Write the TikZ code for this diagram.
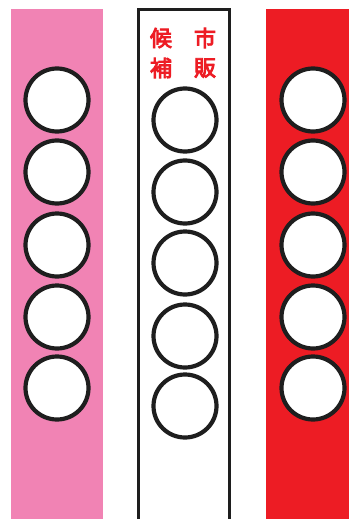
\documentclass[tikz,border=0pt]{standalone}
\usepackage{fontspec}
\newfontfamily\cjk[FakeBold=4]{Noto Sans CJK JP}
\definecolor{pinkcol}{RGB}{241,131,180}
\definecolor{redcol}{RGB}{237,28,36}
\definecolor{ringcol}{RGB}{30,30,30}
\begin{document}
\begin{tikzpicture}[x=1pt,y=-1pt,
  ring/.style={circle,draw=ringcol,fill=white,line width=4.2pt,minimum size=63pt,inner sep=0pt},
  redtxt/.style={text=redcol,font=\cjk\fontsize{22}{22}\selectfont,inner sep=0pt}]
\useasboundingbox (0,0) rectangle (349,519);
\fill[white] (0,0) rectangle (349,519);
\fill[pinkcol] (11,9) rectangle (103,519);
\fill[redcol] (266,9) rectangle (349,519);
\draw[line width=3pt,draw=ringcol] (138.5,530) -- (138.5,9.5) -- (229.5,9.5) -- (229.5,530);
\foreach \i/\y in {1/100,2/172,3/245,4/317,5/388}{
  \node[ring] (L\i) at (57,\y) {};
  \node[ring] (R\i) at (313,\y) {};
}
\foreach \i/\y in {1/120,2/192,3/263,4/336,5/406}{
  \node[ring] (M\i) at (185,\y) {};
}
\node[redtxt] (t1) at (161,38) {候};
\node[redtxt] (t2) at (161,68) {補};
\node[redtxt] (t3) at (205,38) {市};
\node[redtxt] (t4) at (205,68) {販};
\end{tikzpicture}
\end{document}
